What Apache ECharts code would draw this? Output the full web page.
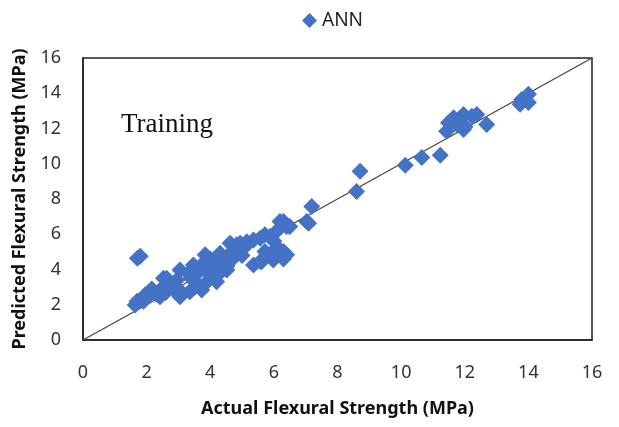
<!DOCTYPE html>
<html>
<head>
<meta charset="utf-8">
<script src="https://cdn.jsdelivr.net/npm/echarts@6/dist/echarts.min.js"></script>
<style>
  html, body { margin: 0; padding: 0; background: #fff; }
  #chart { width: 619px; height: 427px; }
</style>
</head>
<body>
<div id="chart"></div>
<script>
// actual vs predicted flexural strength (MPa)
var actual = [
  1.64, 1.7, 1.95, 2.16, 2.42, 2.53, 2.63, 2.84, 2.95, 3.05, 3.05, 3.31, 3.36, 3.47, 3.68, 3.73,
  3.78, 3.84, 3.99, 4.1, 4.2, 4.31, 4.52, 4.52, 4.52, 4.62, 4.62, 4.73, 4.83, 4.94, 4.94, 5.15,
  5.36, 5.36, 5.57, 5.57, 5.62, 5.72, 5.72, 5.88, 5.98, 6.19, 6.19, 6.3, 6.3, 6.4, 6.4, 6.5,
  7.03, 7.09, 7.19, 1.71, 1.8, 8.6, 8.71, 10.13, 10.65, 11.23,
  11.43, 11.49, 11.65, 11.75, 11.96, 11.96, 12.22, 12.38, 12.01, 12.69,
  13.74, 13.79, 14.0, 14.0,
  2.0, 2.3, 2.6, 2.7, 3.0, 3.4, 3.6, 3.9, 4.0, 4.2, 4.3, 4.4, 4.7, 4.8, 5.0, 5.1,
  6.0, 6.1, 5.9, 6.3, 3.9, 3.5, 2.4, 1.9
];
var predicted = [
  1.98, 2.2, 2.55, 2.9, 2.45, 3.5, 3.5, 2.9, 3.4, 3.97, 2.45, 3.78, 2.74, 4.26, 3.04, 2.83,
  4.35, 4.83, 3.69, 3.97, 3.31, 4.92, 3.97, 4.18, 4.54, 4.83, 5.49, 5.11, 5.4, 5.2, 5.49, 5.58,
  4.26, 5.68, 4.45, 5.78, 4.45, 5.02, 5.97, 5.87, 4.54, 5.11, 6.72, 5.02, 6.72, 4.83, 6.44, 6.44,
  6.72, 6.63, 7.58, 4.64, 4.75, 8.43, 9.57, 9.92, 10.35, 10.48,
  11.85, 12.33, 12.61, 12.23, 12.8, 11.95, 12.7, 12.8, 12.1, 12.23,
  13.37, 13.65, 13.94, 13.47,
  2.4, 2.6, 2.7, 3.2, 2.9, 3.5, 3.8, 4.2, 4.6, 4.4, 3.8, 4.7, 4.6, 5.0, 4.8, 5.3,
  5.6, 6.2, 4.9, 4.6, 3.3, 3.0, 2.8, 2.2
];
var lineX = [0, 16];
var lineY = [0, 16];

var chartDom = document.getElementById('chart');
var myChart = echarts.init(chartDom);
var option;

var points = actual.map(function (v, i) { return [v, predicted[i]]; });
var diag = lineX.map(function (v, i) { return [v, lineY[i]]; });

option = {
  animation: false,
  textStyle: { fontFamily: 'Noto Sans' },
  legend: {
    data: [{ name: 'ANN', icon: 'diamond' }],
    top: 6,
    left: 297,
    itemWidth: 15,
    itemHeight: 15,
    itemGap: 6,
    textStyle: { fontSize: 19, color: '#222', fontFamily: 'Noto Sans' }
  },
  grid: {
    left: 83, right: 27, top: 58, bottom: 87,
    show: true, borderColor: '#222', borderWidth: 1.5
  },
  xAxis: {
    type: 'value', min: 0, max: 16, interval: 2,
    name: 'Actual Flexural Strength (MPa)',
    nameLocation: 'middle', nameGap: 60,
    nameTextStyle: { fontSize: 18, fontWeight: 'bold', color: '#111' },
    axisLine: { lineStyle: { color: '#222', width: 1.5 } },
    axisTick: { show: false },
    splitLine: { show: false },
    axisLabel: { fontSize: 18, color: '#333', margin: 24 }
  },
  yAxis: {
    type: 'value', min: 0, max: 16, interval: 2,
    name: 'Predicted Flexural Strength (MPa)',
    nameLocation: 'middle', nameGap: 54,
    nameTextStyle: { fontSize: 18, fontWeight: 'bold', color: '#111' },
    axisLine: { show: true, lineStyle: { color: '#222', width: 1.5 } },
    axisTick: { show: false },
    splitLine: { show: false },
    axisLabel: { fontSize: 18, color: '#333', margin: 22 }
  },
  graphic: [{
    type: 'text', left: 121, top: 111,
    style: { text: 'Training', font: '27px "Liberation Serif"', fill: '#111' }
  }],
  series: [
    {
      name: 'line',
      type: 'line',
      data: diag,
      showSymbol: false,
      symbol: 'none',
      lineStyle: { color: '#444', width: 1.2 },
      z: 1
    },
    {
      name: 'ANN',
      type: 'scatter',
      data: points,
      symbol: 'diamond',
      symbolSize: 17,
      itemStyle: { color: '#4472C4', opacity: 1 },
      z: 2
    }
  ]
};

option && myChart.setOption(option);
</script>
</body>
</html>
